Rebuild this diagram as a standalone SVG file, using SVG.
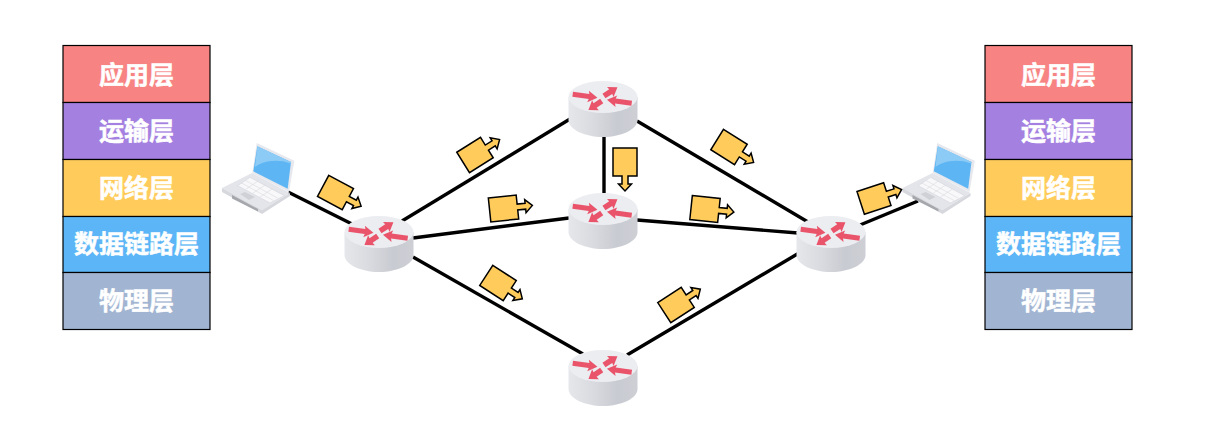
<svg xmlns="http://www.w3.org/2000/svg" width="1206" height="439" viewBox="0 0 1206 439">
<style>
.cell{stroke:#000;stroke-width:1.2}
.lbl{font-family:"Noto Sans CJK SC","Liberation Sans",sans-serif;font-weight:700;font-size:25px;fill:#fff;stroke:#fff;stroke-width:.5;text-anchor:middle}
.link{stroke:#000;stroke-width:3.400;fill:none}
.pk{fill:#FFCC5C;stroke:#000;stroke-width:1.500;stroke-linejoin:miter}
.ra{fill:#E9546B}
</style>
<defs>
<linearGradient id="body" x1="0" x2="1" y1="0" y2="0"><stop offset="0" stop-color="#E6E7EA"/><stop offset=".35" stop-color="#DADBE0"/><stop offset=".7" stop-color="#C9CBD2"/><stop offset="1" stop-color="#CDCFD5"/></linearGradient>
<path id="ra-long" class="ra" d="M0-2.500H16.500L15.500-5.800L25 0L15.500 5.800L16.500 2.500H0Z"/>
<path id="ra-short" class="ra" d="M0-2.800H8L7.500-6L16 0L7.500 6L8 2.800H0Z"/>
<g id="router">
<path d="M-34.500 16V39C-34.500 48 -19 56 0 56S34.500 48 34.500 39V16Z" fill="url(#body)"/>
<ellipse cx="0" cy="16" rx="34.500" ry="16" fill="#ECEDF1"/>
<use href="#ra-long" transform="translate(-30.300 13.300) rotate(8)"/>
<use href="#ra-long" transform="translate(28.700 22.300) rotate(188)"/>
<use href="#ra-short" transform="translate(1 15) rotate(-33)"/>
<use href="#ra-short" transform="translate(-1.300 20) rotate(146)"/>
</g>
<g id="laptop">
<path d="M256.700 143L294.300 160.700L289 192L252.300 173Z" fill="#E6E8EE"/>
<path d="M257.300 146.300L291 162L287.700 188.700L253.300 171.300Z" fill="#5DB5F3"/>
<path d="M257.300 146.300L291 162L290.500 163.500C275 158 262 162 255 167Z" fill="#8CCBF6"/>
<path d="M222 188L252 173L290 193L262 210Z" fill="#E4E5EA"/>
<path d="M222 188L262 210L290 193V196L262 214L222 192Z" fill="#D6D8DD"/>
<path d="M237.700 185.700L250 177.300L284.300 195.700L270 203Z" fill="#F8F8FA" stroke="#D4D5DB" stroke-width=".6"/>
<path d="M241.500 183L273.500 200.500M245.500 180.500L277.500 198M246 189L258 181M253 193L265 185M260 197L272 189" stroke="#D4D5DB" stroke-width=".5" fill="none"/>
<path d="M240 194L245 192L255 197L249 200Z" fill="#CFD1D6"/>
<path d="M232 195L258 209V211.500L232 198.500Z" fill="#A5A7AD"/>
</g>
<path id="packet" class="pk" d="M-14-12H14V-3H22V-6.500L29 0L22 6.500V3H14V12H-14Z"/>
</defs>
<g id="connectors">
<line class="link" x1="288" y1="192" x2="352" y2="224"/>
<line class="link" x1="402" y1="221" x2="570" y2="119"/>
<line class="link" x1="413" y1="238" x2="569" y2="218"/>
<line class="link" x1="413" y1="257" x2="583" y2="354"/>
<line class="link" x1="604" y1="137" x2="604" y2="193"/>
<line class="link" x1="637" y1="121" x2="808" y2="222"/>
<line class="link" x1="637" y1="220" x2="798" y2="233"/>
<line class="link" x1="627" y1="355" x2="799" y2="253"/>
<line class="link" x1="860" y1="225" x2="918" y2="201"/>
</g>
<g id="stack-left">
<rect class="cell" x="63" y="45.500" width="147" height="57" fill="#F78383"/>
<rect class="cell" x="63" y="102.500" width="147" height="57" fill="#A480E0"/>
<rect class="cell" x="63" y="159.500" width="147" height="57" fill="#FFCC5C"/>
<rect class="cell" x="63" y="216.500" width="147" height="56" fill="#5BB5F6"/>
<rect class="cell" x="63" y="272.500" width="147" height="57" fill="#A1B4D1"/>
<text class="lbl" x="136.500" y="83.500">应用层</text>
<text class="lbl" x="136.500" y="140">运输层</text>
<text class="lbl" x="136.500" y="197">网络层</text>
<text class="lbl" x="136.500" y="253">数据链路层</text>
<text class="lbl" x="136.500" y="310">物理层</text>
</g>
<g id="stack-right">
<rect class="cell" x="985" y="45.500" width="147" height="57" fill="#F78383"/>
<rect class="cell" x="985" y="102.500" width="147" height="57" fill="#A480E0"/>
<rect class="cell" x="985" y="159.500" width="147" height="57" fill="#FFCC5C"/>
<rect class="cell" x="985" y="216.500" width="147" height="56" fill="#5BB5F6"/>
<rect class="cell" x="985" y="272.500" width="147" height="57" fill="#A1B4D1"/>
<text class="lbl" x="1058.500" y="83.500">应用层</text>
<text class="lbl" x="1058.500" y="140">运输层</text>
<text class="lbl" x="1058.500" y="197">网络层</text>
<text class="lbl" x="1058.500" y="253">数据链路层</text>
<text class="lbl" x="1058.500" y="310">物理层</text>
</g>
<g id="laptop-left"><use href="#laptop"/></g>
<g id="laptop-right"><use href="#laptop" transform="translate(680.500 0)"/></g>
<g id="router-a"><use href="#router" transform="translate(379 216)"/></g>
<g id="router-b"><use href="#router" transform="translate(603 81)"/></g>
<g id="router-c"><use href="#router" transform="translate(603 193)"/></g>
<g id="router-d"><use href="#router" transform="translate(603 350)"/></g>
<g id="router-e"><use href="#router" transform="translate(831 216)"/></g>
<g id="packets">
<use href="#packet" transform="translate(335.500 192.500) rotate(28)"/>
<use href="#packet" transform="translate(475 155) rotate(-32)"/>
<use href="#packet" transform="translate(503.500 208.500) rotate(-6)"/>
<use href="#packet" transform="translate(625 162) rotate(90)"/>
<use href="#packet" transform="translate(705 209) rotate(6)"/>
<use href="#packet" transform="translate(729 147) rotate(32)"/>
<use href="#packet" transform="translate(498 283) rotate(33)"/>
<use href="#packet" transform="translate(676 305) rotate(-33)"/>
<use href="#packet" transform="translate(874 198.500) rotate(-18)"/>
</g>
</svg>
